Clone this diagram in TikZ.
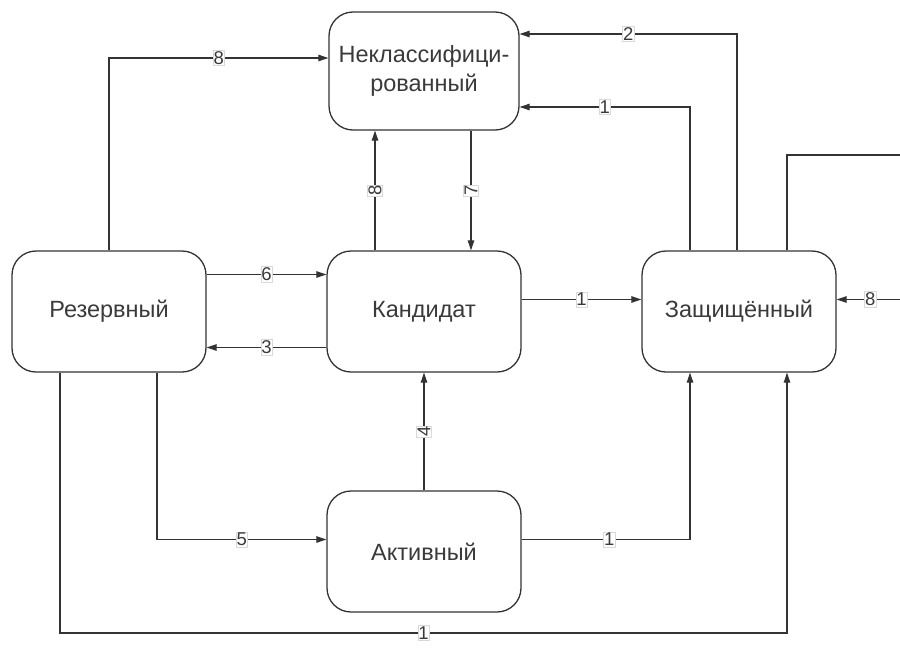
\documentclass[tikz,border=0pt]{standalone}
\usepackage{fontspec}
\setmainfont{Liberation Sans}
\usetikzlibrary{arrows.meta}
\definecolor{lc}{HTML}{333333}
\definecolor{tc}{HTML}{3A3A3A}
\tikzset{
  stbox/.style={draw=lc, line width=1.3pt, rounded corners=24pt, minimum width=194pt,
    minimum height=121pt, inner sep=0pt, align=center, text=tc,
    font=\fontsize{23.5}{29}\selectfont},
  conn/.style={draw=lc, line width=1.1pt},
  arr/.style={conn, -{Triangle[length=10pt,width=6.5pt]}},
  lbl/.style={fill=white, draw=gray!30, line width=0.6pt, inner xsep=0.5pt, inner ysep=1.2pt, text=tc,
    font=\fontsize{18.5}{20}\selectfont},
  vlbl/.style={lbl, rotate=90}
}
\begin{document}
\begin{tikzpicture}[x=1pt,y=-1pt]
\useasboundingbox (0,0) rectangle (900,648);
\node[stbox, minimum width=190pt, minimum height=118pt] (nekl) at (424,71) {Неклассифици-\\рованный};
\node[stbox] (rez) at (109,311.5) {Резервный};
\node[stbox] (kand) at (424,311.5) {Кандидат};
\node[stbox] (zash) at (739,311.5) {Защищённый};
\node[stbox] (akt) at (424,551.5) {Активный};
\coordinate (rin) at (900,299.5);
\coordinate (rout) at (900,155);
\coordinate (bl) at (60,633);
\coordinate (br) at (787,633);
% to Nekl
\draw[arr] (rez.north) |- node[lbl,pos=0.75]{8} ([yshift=13pt]nekl.west);
\draw[arr] ([xshift=-2pt]zash.north) |- node[lbl,pos=0.75]{2} ([yshift=37pt]nekl.east);
\draw[arr] ([xshift=-49pt]zash.north) |- node[lbl,pos=0.75]{1} ([yshift=-36pt]nekl.east);
\draw[arr] ([xshift=-49pt]kand.north) -- node[vlbl]{8} ([xshift=-49pt]nekl.south);
\draw[arr] ([xshift=47pt]nekl.south) -- node[vlbl]{7} ([xshift=47pt]kand.north);
% rez <-> kand
\draw[arr] ([yshift=37pt]rez.east) -- node[lbl]{6} ([yshift=37pt]kand.west);
\draw[arr] ([yshift=-36pt]kand.west) -- node[lbl]{3} ([yshift=-36pt]rez.east);
% kand -> zash
\draw[arr] ([yshift=12pt]kand.east) -- node[lbl]{1} ([yshift=12pt]zash.west);
% right side
\draw[arr] (rin) -- node[lbl,pos=0.47]{8} ([yshift=12pt]zash.east);
\draw[conn] ([xshift=48pt]zash.north) |- (rout);
% akt
\draw[arr] (akt.north) -- node[vlbl]{4} (kand.south);
\draw[arr] ([xshift=48pt]rez.south) |- node[lbl,pos=0.75]{5} ([yshift=12pt]akt.west);
\draw[arr] ([yshift=12pt]akt.east) -| node[lbl,pos=0.26]{1} ([xshift=-49pt]zash.south);
% bottom loop
\draw[arr] ([xshift=-49pt]rez.south) -- (bl) -- node[lbl]{1} (br) -- ([xshift=48pt]zash.south);
\end{tikzpicture}
\end{document}
